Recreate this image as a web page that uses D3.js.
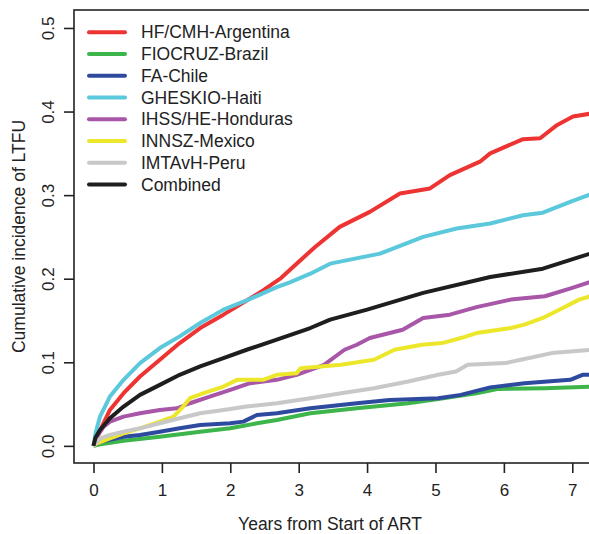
<!DOCTYPE html>
<html>
<head>
<meta charset="utf-8">
<script src="https://cdn.jsdelivr.net/npm/d3@7"></script>
<style>
  body { margin: 0; background: #fff; }
  svg { display: block; font-family: "Liberation Sans", Arial, Helvetica, sans-serif; }
</style>
</head>
<body>
<svg id="chart" width="589" height="534"></svg>
<script>
// site names, in legend order
var sites = ["HF/CMH-Argentina", "FIOCRUZ-Brazil", "FA-Chile", "GHESKIO-Haiti",
             "IHSS/HE-Honduras", "INNSZ-Mexico", "IMTAvH-Peru", "Combined"];
var siteColors = ["#ee3333", "#3db54a", "#2e4a9e", "#5bc8db", "#a857a8", "#ede72b", "#c8c8c8", "#1e1e1e"];

// years since start of ART / cumulative incidence
var argT = [0, 0.1, 0.24, 0.44, 0.68, 0.97, 1.26, 1.56, 1.9, 2.24, 2.48, 2.73, 2.97, 3.24, 3.6, 4.04, 4.48, 4.92, 5.21, 5.65, 5.8, 6.28, 6.53, 6.78, 7.01, 7.3];
var argV = [0, 0.019, 0.043, 0.063, 0.083, 0.103, 0.123, 0.141, 0.157, 0.174, 0.186, 0.2, 0.218, 0.238, 0.262, 0.28, 0.302, 0.308, 0.324, 0.34, 0.35, 0.367, 0.368, 0.384, 0.394, 0.398];

var braT = [0, 0.1, 0.44, 0.97, 1.56, 2.0, 2.39, 2.68, 3.17, 3.85, 4.6, 5.04, 5.6, 5.9, 6.6, 7.3];
var braV = [0, 0.002, 0.006, 0.011, 0.017, 0.021, 0.027, 0.031, 0.039, 0.045, 0.051, 0.056, 0.063, 0.068, 0.069, 0.071];

var chiT = [0, 0.1, 0.44, 0.68, 0.97, 1.26, 1.56, 2.0, 2.19, 2.39, 2.68, 3.17, 3.85, 4.33, 5.04, 5.37, 5.8, 6.3, 6.97, 7.15, 7.3];
var chiV = [0, 0.005, 0.011, 0.013, 0.017, 0.021, 0.025, 0.027, 0.029, 0.037, 0.039, 0.045, 0.051, 0.055, 0.057, 0.061, 0.07, 0.075, 0.079, 0.085, 0.085];

var haiT = [0, 0.03, 0.095, 0.24, 0.44, 0.68, 0.97, 1.26, 1.56, 1.9, 2.24, 2.68, 2.88, 3.17, 3.46, 4.19, 4.82, 5.31, 5.8, 6.28, 6.57, 6.97, 7.3];
var haiV = [0, 0.015, 0.035, 0.059, 0.079, 0.099, 0.117, 0.131, 0.147, 0.163, 0.174, 0.19, 0.196, 0.206, 0.218, 0.23, 0.25, 0.26, 0.266, 0.276, 0.279, 0.292, 0.302];

var honT = [0, 0.05, 0.15, 0.24, 0.44, 0.68, 0.97, 1.22, 1.41, 1.7, 2.0, 2.29, 2.68, 2.97, 3.37, 3.67, 3.85, 4.04, 4.52, 4.82, 5.21, 5.6, 6.1, 6.6, 7.0, 7.3];
var honV = [0, 0.011, 0.023, 0.029, 0.035, 0.039, 0.043, 0.045, 0.051, 0.059, 0.067, 0.075, 0.079, 0.085, 0.097, 0.115, 0.121, 0.129, 0.139, 0.153, 0.157, 0.166, 0.175, 0.179, 0.189, 0.197];

var mexT = [0, 0.05, 0.24, 0.44, 0.68, 0.97, 1.17, 1.31, 1.41, 1.61, 1.9, 2.1, 2.48, 2.68, 2.97, 3.03, 3.62, 4.1, 4.4, 4.8, 5.1, 5.37, 5.6, 6.1, 6.3, 6.57, 6.86, 7.1, 7.3];
var mexV = [0, 0.003, 0.009, 0.015, 0.021, 0.029, 0.035, 0.047, 0.057, 0.063, 0.071, 0.079, 0.079, 0.085, 0.087, 0.093, 0.097, 0.103, 0.115, 0.121, 0.123, 0.129, 0.135, 0.141, 0.145, 0.153, 0.165, 0.175, 0.18];

var perT = [0, 0.1, 0.24, 0.44, 0.68, 0.97, 1.26, 1.56, 1.9, 2.24, 2.68, 3.17, 3.62, 4.1, 4.6, 5.04, 5.3, 5.47, 6.02, 6.3, 6.7, 7.3];
var perV = [0, 0.009, 0.013, 0.017, 0.021, 0.027, 0.033, 0.039, 0.043, 0.047, 0.051, 0.057, 0.063, 0.069, 0.077, 0.085, 0.089, 0.097, 0.099, 0.104, 0.111, 0.115];

var allT = [0, 0.03, 0.095, 0.24, 0.44, 0.68, 0.97, 1.26, 1.56, 1.9, 2.24, 2.68, 3.17, 3.46, 4.0, 4.82, 5.8, 6.57, 7.3];
var allV = [0, 0.01, 0.019, 0.033, 0.047, 0.061, 0.073, 0.085, 0.095, 0.105, 0.115, 0.127, 0.141, 0.151, 0.163, 0.183, 0.202, 0.212, 0.231];

var xTicks = [0, 1, 2, 3, 4, 5, 6, 7];
var yTicks = [0, 0.1, 0.2, 0.3, 0.4, 0.5];

var series = [[argT, argV], [braT, braV], [chiT, chiV], [haiT, haiV],
              [honT, honV], [mexT, mexV], [perT, perV], [allT, allV]];

var ink = "#222";
var svg = d3.select("#chart");

// plot region (box runs off the right edge, as in the original crop)
var boxL = 74, boxR = 601, boxT = 10, boxB = 463;

var x = d3.scaleLinear().domain([-0.285, 7.42]).range([boxL, boxR]);
var y = d3.scaleLinear().domain([-0.0205, 0.5215]).range([boxB, boxT]);

svg.append("clipPath").attr("id", "plotclip")
  .append("rect")
    .attr("x", boxL).attr("y", boxT)
    .attr("width", boxR - boxL).attr("height", boxB - boxT);

var line = d3.line()
    .x(function(d) { return x(d[0]); })
    .y(function(d) { return y(d[1]); });

svg.append("g")
    .attr("clip-path", "url(#plotclip)")
  .selectAll("path")
  .data(series)
  .enter()
  .append("path")
    .attr("d", function(s) { return line(d3.zip(s[0], s[1])); })
    .attr("fill", "none")
    .attr("stroke", function(s, i) { return siteColors[i]; })
    .attr("stroke-width", 4)
    .attr("stroke-linejoin", "round");

// box
svg.append("rect")
    .attr("x", boxL).attr("y", boxT)
    .attr("width", boxR - boxL).attr("height", boxB - boxT)
    .attr("fill", "none")
    .attr("stroke", ink)
    .attr("stroke-width", 1.6);

// y axis, labels turned as in R
var yAxis = svg.append("g")
    .attr("transform", "translate(" + boxL + ",0)")
    .call(d3.axisLeft(y).tickValues(yTicks).tickSize(10).tickFormat(d3.format(".1f")));
yAxis.select(".domain").remove();
yAxis.selectAll("line").attr("stroke", ink).attr("stroke-width", 1.6);
yAxis.selectAll("text")
    .attr("transform", "rotate(-90)")
    .attr("x", 0).attr("y", -20).attr("dy", 0)
    .attr("text-anchor", "middle")
    .attr("fill", ink)
    .style("font-size", "17px");

// x axis
var xAxis = svg.append("g")
    .attr("transform", "translate(0," + boxB + ")")
    .call(d3.axisBottom(x).tickValues(xTicks).tickSize(10));
xAxis.select(".domain").remove();
xAxis.selectAll("line").attr("stroke", ink).attr("stroke-width", 1.6);
xAxis.selectAll("text")
    .attr("y", 33).attr("dy", 0)
    .attr("fill", ink)
    .style("font-size", "17px");

// axis titles
svg.append("text")
    .attr("x", 330).attr("y", 530)
    .attr("text-anchor", "middle")
    .attr("fill", ink)
    .style("font-size", "17.5px")
    .text("Years from Start of ART");

svg.append("text")
    .attr("transform", "translate(25," + (boxB + boxT) / 2 + ") rotate(-90)")
    .attr("text-anchor", "middle")
    .attr("fill", ink)
    .style("font-size", "17.5px")
    .text("Cumulative incidence of LTFU");

// legend
var leg = svg.append("g")
  .selectAll("g")
  .data(sites)
  .enter()
  .append("g")
    .attr("transform", function(d, i) { return "translate(89," + (32.3 + i * 21.75) + ")"; });

leg.append("line")
    .attr("x1", 0).attr("x2", 36)
    .attr("stroke", function(d, i) { return siteColors[i]; })
    .attr("stroke-width", 4)
    .attr("stroke-linecap", "round");

leg.append("text")
    .attr("x", 52)
    .attr("dy", "0.35em")
    .attr("fill", ink)
    .style("font-size", "17.5px")
    .text(function(d) { return d; });
</script>
</body>
</html>
